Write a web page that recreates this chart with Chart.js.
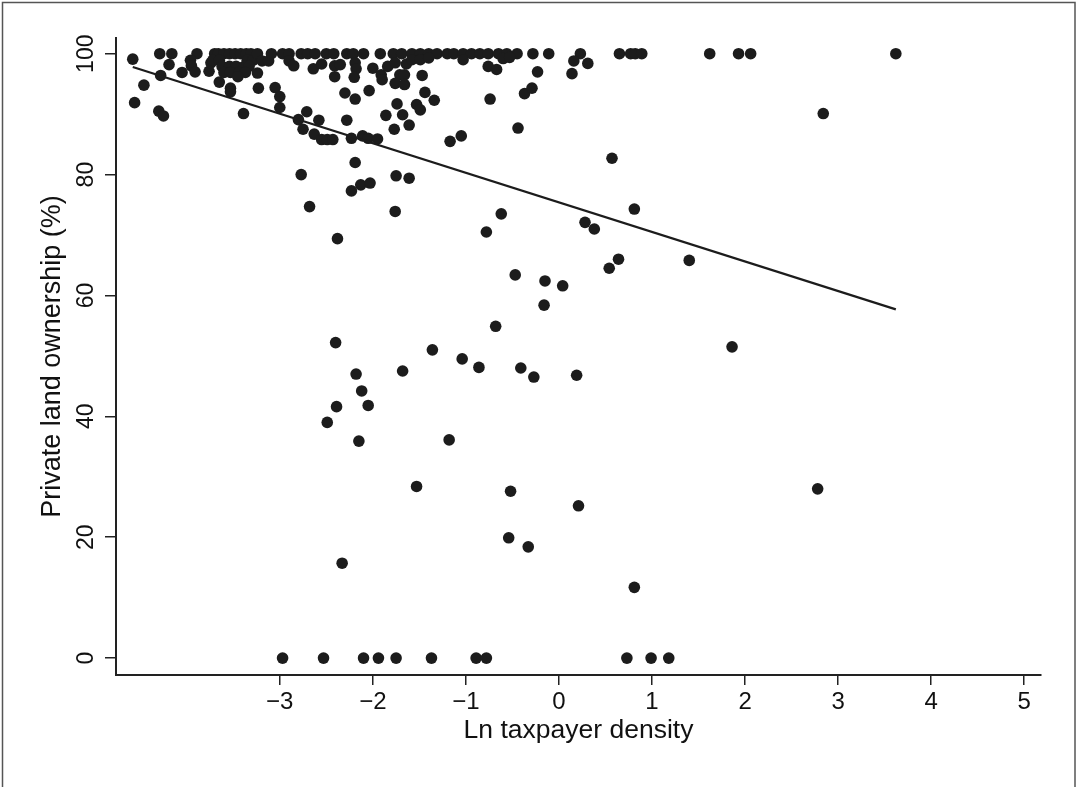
<!DOCTYPE html>
<html>
<head>
<meta charset="utf-8">
<title>Private land ownership vs taxpayer density</title>
<script src="https://cdn.jsdelivr.net/npm/chart.js@4.4.0/dist/chart.umd.min.js"></script>
<style>
  html, body { margin: 0; padding: 0; background: #fff; }
  #wrap { width: 1077px; height: 787px; position: relative; }
</style>
</head>
<body>
<div id="wrap"><canvas id="plot"></canvas></div>
<script>
// Ln taxpayer density (x) and private land ownership in % (y), one pair per district
var taxDensity = [
  -4.58, -4.56, -4.46, -4.29, -4.16, -4.19, -4.28, -4.30, -4.25, -4.05,
  -3.89, -3.96, -3.95, -3.91, -3.76, -3.74, -3.70, -3.65, -3.53, -3.53,
  -3.39, -3.66, -3.60, -3.54, -3.48, -3.42, -3.36, -3.31, -3.72, -3.65,
  -3.35, -3.29, -3.62, -3.54, -3.47, -3.38, -3.33, -3.60, -3.53, -3.44,
  -3.37, -3.45, -3.24, -3.24, -3.23, -3.19, -3.12, -3.09, -3.05, -3.00,
  -3.00, -2.97, -2.90, -2.90, -2.85, -2.80, -2.77, -2.70, -2.62, -2.64,
  -2.71, -2.75, -2.58, -2.63, -2.55, -2.49, -2.43, -2.77, -2.55, -2.50,
  -2.42, -2.41, -2.41, -2.35, -2.30, -2.28,
  -2.28, -2.21, -2.10, -1.92, -1.78, -1.69, -1.58, -1.49, -1.40, -1.31,
  -1.20, -1.13, -1.03, -0.94, -0.85, -0.76, -0.65, -0.56, -0.45, -0.28, -0.11,
  -2.19, -2.18, -2.20, -2.19, -2.23, -2.11, -2.05, -1.95, -2.19, -2.23,
  -2.13, -2.03, -1.75, -1.61, -2.04, -2.00, -1.91, -1.90, -1.84, -1.76,
  -1.64, -1.58, -1.49, -1.40, -1.71, -1.66, -1.76, -1.66, -1.47, -1.74,
  -1.68, -1.86, -1.77, -1.61, -1.53, -1.49, -1.44, -1.34, -1.17, -1.05,
  -1.03, -0.76, -0.67, -0.60, -0.53, -0.74, -0.44, -0.37, -0.29, -0.23,
  0.23, 0.16, 0.31, 0.14, 0.65, 0.77, 0.82, 0.89, 1.62, 1.93,
  2.06, 3.62, 2.84, 0.57,
  -2.68, -1.76, -2.38, -0.62, -0.78, -0.47, -0.15, 0.04, -0.16, -0.68,
  -2.40, -1.36, -1.04, -0.86, -0.41, -0.27, 0.19, -1.68, -2.18, -2.12,
  -2.05, -2.39, -2.49, -2.15, -1.18,
  0.81, 0.28, 0.38, 0.64, 0.54, 1.40, 1.86,
  -1.53, -0.52, 0.21, -0.54, -0.33, -2.33, 0.81, 2.78,
  -2.97, -2.53, -2.10, -1.94, -1.75, -1.37, -0.89, -0.78, 0.73, 0.99, 1.18
];
var privateShare = [
  99.1, 91.9, 94.8, 100, 100, 98.2, 96.4, 90.5, 89.7, 96.9,
  100, 98.9, 98.0, 97.0, 97.1, 98.5, 100, 95.3, 94.3, 93.7,
  90.1, 100, 100, 100, 100, 100, 100, 100, 98.9, 98.9,
  98.9, 98.9, 97.9, 97.9, 97.9, 97.9, 97.9, 96.9, 96.9, 96.9,
  96.9, 96.2, 100, 96.8, 94.3, 98.8, 98.8, 100, 94.4, 92.9,
  91.1, 100, 100, 98.8, 98.0, 89.1, 100, 100, 100, 97.5,
  90.4, 87.5, 89.0, 86.7, 85.8, 85.8, 85.8, 80.0, 98.3, 100,
  100, 98.0, 96.2, 98.2, 93.5, 89.0,
  100, 100, 100, 100, 100, 100, 100, 100, 100, 100,
  100, 100, 100, 100, 100, 100, 100, 100, 100, 100, 100,
  98.5, 97.5, 96.1, 92.5, 86.0, 86.4, 86.0, 85.9, 82.0, 77.3,
  78.3, 78.6, 79.8, 79.4, 93.9, 97.6, 96.5, 95.7, 97.9, 98.5,
  98.3, 99.0, 99.0, 99.3, 96.5, 96.5, 95.1, 94.9, 96.4, 91.7,
  89.9, 89.8, 87.5, 88.2, 91.6, 90.7, 93.6, 92.3, 85.5, 86.4,
  99.0, 97.9, 97.4, 99.2, 99.4, 92.5, 87.7, 93.4, 94.3, 97.0,
  100, 98.8, 98.4, 96.7, 100, 100, 100, 100, 100, 100,
  100, 100, 90.1, 82.7,
  74.7, 73.9, 69.4, 73.5, 70.5, 63.4, 62.4, 61.6, 58.4, 54.9,
  52.2, 51.0, 49.5, 48.1, 48.0, 46.5, 46.8, 47.5, 47.0, 44.2,
  41.8, 41.6, 39.0, 35.9, 36.1,
  74.3, 72.1, 71.0, 66.0, 64.5, 65.8, 51.5,
  28.4, 27.6, 25.2, 19.9, 18.4, 15.7, 11.7, 28.0,
  0, 0, 0, 0, 0, 0, 0, 0, 0, 0, 0
];

// linear fit, end points
var fitX = [-4.58, 3.62];
var fitY = [97.8, 57.7];

var xTicks = [-3, -2, -1, 0, 1, 2, 3, 4, 5];
var yTicks = [0, 20, 40, 60, 80, 100];

var FONT = '"Liberation Sans", Arial, Helvetica, sans-serif';
var INK = '#1c1c1c';

var points = taxDensity.map(function (x, i) { return { x: x, y: privateShare[i] }; });
var fitLine = fitX.map(function (x, i) { return { x: x, y: fitY[i] }; });

// outer frame + rotated y tick labels (Stata style)
var stataBits = {
  id: 'stataBits',
  beforeDraw: function (chart) {
    var c = chart.ctx;
    c.save();
    c.fillStyle = '#fff';
    c.fillRect(0, 0, chart.width, chart.height);
    c.strokeStyle = '#555';
    c.lineWidth = 1.5;
    c.strokeRect(2.5, 2.5, chart.width - 4.5, chart.height + 20);
    c.restore();
  },
  afterDraw: function (chart) {
    var c = chart.ctx, ys = chart.scales.y;
    c.save();
    c.font = '23px ' + FONT;
    c.fillStyle = '#111';
    c.textAlign = 'center';
    c.textBaseline = 'alphabetic';
    yTicks.forEach(function (v) {
      c.save();
      c.translate(ys.right - 23, ys.getPixelForValue(v));
      c.rotate(-Math.PI / 2);
      c.fillText(String(v), 0, 0);
      c.restore();
    });
    c.restore();
  }
};

new Chart(document.getElementById('plot'), {
  type: 'scatter',
  data: {
    datasets: [
      {
        type: 'line',
        data: fitLine,
        borderColor: INK,
        borderWidth: 2.2,
        pointRadius: 0,
        fill: false,
        order: 0
      },
      {
        data: points,
        backgroundColor: INK,
        borderWidth: 0,
        pointRadius: 5.8,
        order: 1
      }
    ]
  },
  options: {
    responsive: true,
    maintainAspectRatio: false,
    animation: false,
    layout: { padding: { left: 0, top: 38, right: 36, bottom: 0 } },
    plugins: { legend: { display: false }, tooltip: { enabled: false } },
    scales: {
      x: {
        type: 'linear',
        min: -4.76,
        max: 5.18,
        afterBuildTicks: function (s) { s.ticks = xTicks.map(function (v) { return { value: v }; }); },
        afterFit: function (s) { s.height = 112; },
        grid: { drawOnChartArea: false, drawTicks: true, tickLength: 10, color: '#222', lineWidth: 1.5 },
        border: { display: true, color: '#222', width: 2 },
        ticks: {
          padding: 3,
          color: '#111',
          font: { family: FONT, size: 24 },
          maxRotation: 0,
          autoSkip: false,
          callback: function (v) { return v < 0 ? '\u2212' + Math.abs(v) : String(v); }
        },
        title: {
          display: true,
          text: 'Ln taxpayer density',
          color: '#111',
          font: { family: FONT, size: 26.5 },
          padding: { top: 0, bottom: 40 }
        }
      },
      y: {
        type: 'linear',
        min: -2.8,
        max: 102.6,
        afterBuildTicks: function (s) { s.ticks = yTicks.map(function (v) { return { value: v }; }); },
        afterFit: function (s) { s.width = 116; },
        grid: { drawOnChartArea: false, drawTicks: true, tickLength: 11, color: '#222', lineWidth: 1.5 },
        border: { display: true, color: '#222', width: 2 },
        ticks: { display: false },
        title: {
          display: true,
          text: 'Private land ownership (%)',
          color: '#111',
          font: { family: FONT, size: 27 },
          padding: { top: 36, bottom: 0 }
        }
      }
    }
  },
  plugins: [stataBits]
});
</script>
</body>
</html>
